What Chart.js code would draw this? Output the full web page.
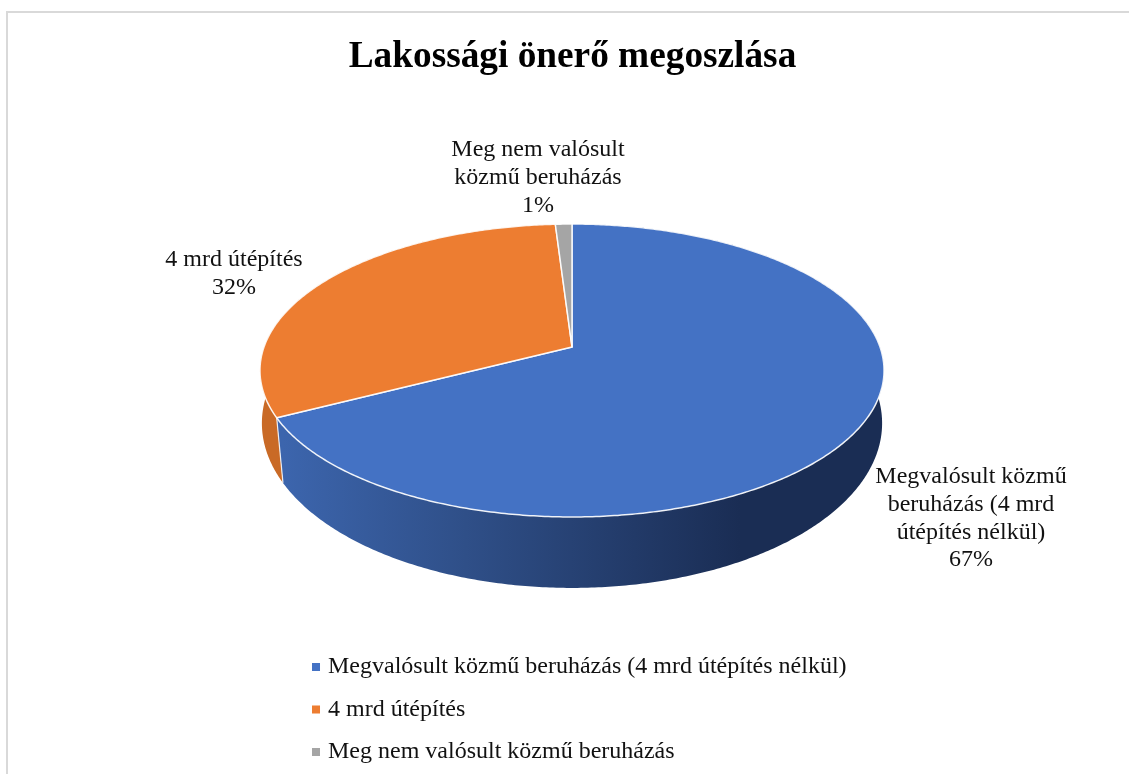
<!DOCTYPE html>
<html>
<head>
<meta charset="utf-8">
<title>Lakossági önerő megoszlása</title>
<script src="https://cdn.jsdelivr.net/npm/chart.js@4"></script>
<style>
    html, body { margin: 0; padding: 0; background: #fff; }
    canvas { display: block; }
</style>
</head>
<body>
<canvas id="myChart" width="1129" height="774"></canvas>
<script>
var categories = [
    "Megvalósult közmű beruházás (4 mrd útépítés nélkül)",
    "4 mrd útépítés",
    "Meg nem valósult közmű beruházás",
];
var shares = [67.4, 31.6, 1.0];
var sliceColors = ["#4472c4", "#ed7d31", "#a5a5a5"];
var labelLines = [
    ["Megvalósult közmű", "beruházás (4 mrd", "útépítés nélkül)"],
    ["4 mrd útépítés"],
    ["Meg nem valósult", "közmű beruházás"],
];

var serif = "'Liberation Serif', 'Times New Roman', serif";
var textSize = 24;

// where the data labels sit (centre of the first line)
var labelSpots = [
    { x: 971, y: 477 },
    { x: 234, y: 260 },
    { x: 538, y: 150 },
];

// the tilted pie: perspective of the top face and of the bottom rim
var topFace = { cx: 572, cy: 347, rx: 308, ry: 142.7, tilt: 0.1604 };
var bottomRim = { cx: 572, cy: 404, rx: 308, ry: 162.5, tilt: 0.1165 };

function project(face, theta) {
    var w = 1 + face.tilt * Math.cos(theta);
    return {
        x: face.cx + (face.rx * Math.sin(theta)) / w,
        y: face.cy - (face.ry * Math.cos(theta)) / w,
    };
}

function traceRim(ctx, from, to, face) {
    var steps = Math.max(2, Math.ceil(Math.abs(to - from) / 0.01));
    for (var i = 0; i <= steps; i++) {
        var p = project(face, from + ((to - from) * i) / steps);
        ctx.lineTo(p.x, p.y);
    }
}

var framePlugin = {
    id: "frame",
    beforeDraw: function (chart) {
        var c = chart.ctx;
        c.save();
        c.strokeStyle = "#d9d9d9";
        c.lineWidth = 2;
        c.beginPath();
        c.moveTo(7, 774);
        c.lineTo(7, 12);
        c.lineTo(1129, 12);
        c.stroke();
        c.restore();
    },
};

var legendSpot = {
    id: "legendSpot",
    afterLayout: function (chart) {
        var lg = chart.legend;
        var pad = lg.options.labels.padding;
        var w = lg.width;
        var h = lg.height;
        lg.left = 316 - pad;
        lg.right = lg.left + w;
        lg.top = 655 - pad;
        lg.bottom = lg.top + h;
    },
};

var tiltedPie = {
    id: "tiltedPie",
    beforeDatasetDraw: function (chart, args) {
        var c = chart.ctx;
        var arcs = args.meta.data;
        var angles = arcs.map(function (a) {
            return { from: a.startAngle + Math.PI / 2, to: a.endAngle + Math.PI / 2 };
        });

        c.save();

        // outer wall, orange first so the blue front sits over it
        var wallFill = c.createLinearGradient(283, 0, 740, 0);
        wallFill.addColorStop(0, "#3c65ad");
        wallFill.addColorStop(0.4, "#2f4f88");
        wallFill.addColorStop(1, "#1a2d54");
        var walls = [
            { i: 1, fill: "#c96a26" },
            { i: 0, fill: wallFill },
        ];
        walls.forEach(function (wall) {
            var ang = angles[wall.i];
            c.beginPath();
            var s = project(topFace, ang.from);
            c.moveTo(s.x, s.y);
            traceRim(c, ang.from, ang.to, topFace);
            traceRim(c, ang.to, ang.from, bottomRim);
            c.closePath();
            c.fillStyle = wall.fill;
            c.fill();
        });

        // seam where the two walls meet
        var seamTop = project(topFace, angles[0].to);
        var seamBottom = project(bottomRim, angles[0].to);
        c.strokeStyle = "rgba(255,255,255,0.85)";
        c.lineWidth = 1.2;
        c.beginPath();
        c.moveTo(seamTop.x, seamTop.y);
        c.lineTo(seamBottom.x, seamBottom.y);
        c.stroke();

        // top face
        arcs.forEach(function (a, i) {
            c.beginPath();
            c.moveTo(topFace.cx, topFace.cy);
            traceRim(c, angles[i].from, angles[i].to, topFace);
            c.closePath();
            c.fillStyle = sliceColors[i];
            c.fill();
            c.strokeStyle = "rgba(255,255,255,0.9)";
            c.lineWidth = 1.5;
            c.lineJoin = "round";
            c.stroke();
        });

        // data labels
        c.fillStyle = "#111";
        c.font = textSize + "px " + serif;
        c.textAlign = "center";
        c.textBaseline = "middle";
        var total = shares.reduce(function (t, v) { return t + v; }, 0);
        labelSpots.forEach(function (spot, i) {
            var lines = labelLines[i].concat([Math.round((shares[i] / total) * 100) + "%"]);
            lines.forEach(function (line, n) {
                c.fillText(line, spot.x, spot.y + n * 27.7);
            });
        });

        c.restore();
        return false;
    },
};

var ctx = document.getElementById("myChart").getContext("2d");
var myChart = new Chart(ctx, {
    type: "pie",
    data: {
        labels: categories,
        datasets: [
            {
                data: shares,
                backgroundColor: sliceColors,
                borderWidth: 0,
            },
        ],
    },
    options: {
        responsive: false,
        animation: false,
        layout: { padding: { left: 16 } },
        plugins: {
            title: {
                display: true,
                text: "Lakossági önerő megoszlása",
                color: "#000",
                font: { family: serif, size: 37.3, weight: "bold" },
                padding: { top: 35, bottom: 10 },
            },
            legend: {
                position: "left",
                align: "start",
                labels: {
                    font: { family: serif, size: textSize },
                    color: "#111",
                    padding: 18.5,
                    usePointStyle: true,
                    pointStyle: "rect",
                    boxWidth: 0.01,
                    boxHeight: 8,
                },
            },
            tooltip: { enabled: false },
        },
    },
    plugins: [framePlugin, legendSpot, tiltedPie],
});
</script>
</body>
</html>
